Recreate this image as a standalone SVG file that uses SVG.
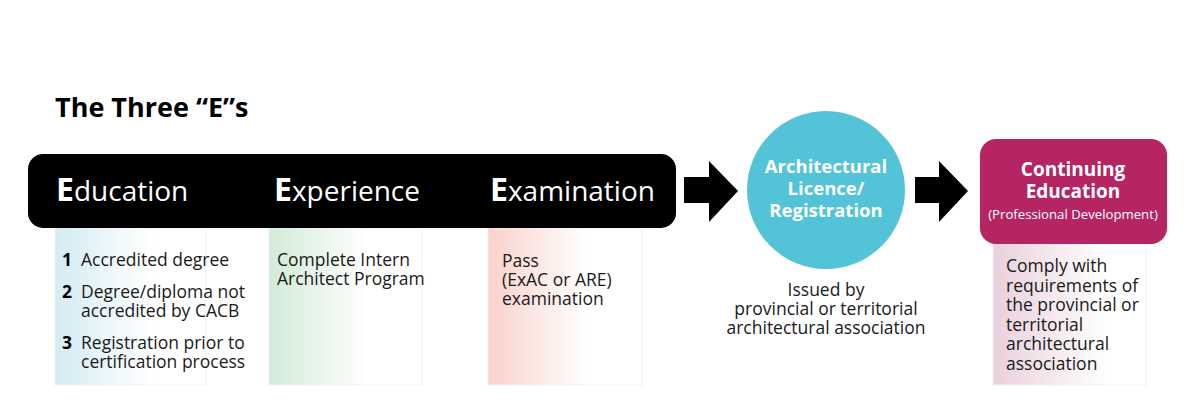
<svg xmlns="http://www.w3.org/2000/svg" width="1200" height="418" viewBox="0 0 1200 418">
<style>
.t{font-family:"Open Sans","Liberation Sans",sans-serif;fill:#1a1a1a}
.body{font-size:17.5px}
.num{font-family:"Open Sans","Liberation Sans",sans-serif;font-size:17.5px;font-weight:bold;fill:#000}
.title{font-family:"Open Sans","Liberation Sans",sans-serif;font-size:27px;font-weight:bold;fill:#000}
.hd{font-family:"Open Sans","Liberation Sans",sans-serif;fill:#fff;font-size:28px}
.hdE{font-weight:bold;font-size:32px}
.wb{font-family:"Open Sans","Liberation Sans",sans-serif;fill:#fff;font-weight:bold;text-anchor:middle}
.wn{font-family:"Open Sans","Liberation Sans",sans-serif;fill:#fff;font-weight:normal;text-anchor:middle;font-size:13.2px}
.col{stroke:#f2f2f2;stroke-width:1}
</style>
<defs>
<linearGradient id="gBlue" x1="0" x2="1" y1="0" y2="0"><stop offset="0" stop-color="#d3ecf3"/><stop offset="0.65" stop-color="#fff"/></linearGradient>
<linearGradient id="gGreen" x1="0" x2="1" y1="0" y2="0"><stop offset="0" stop-color="#d2ebd7"/><stop offset="0.65" stop-color="#fff"/></linearGradient>
<linearGradient id="gRed" x1="0" x2="1" y1="0" y2="0"><stop offset="0" stop-color="#f9d2cb"/><stop offset="0.65" stop-color="#fff"/></linearGradient>
<linearGradient id="gMag" x1="0" x2="1" y1="0" y2="0"><stop offset="0" stop-color="#ead0db"/><stop offset="0.75" stop-color="#fff"/></linearGradient>
</defs>
<rect width="1200" height="418" fill="#fff"/>
<text class="title" x="55" y="117">The Three “E”s</text>

<g id="education-column">
<rect class="col" x="55" y="228" width="151" height="157" fill="url(#gBlue)"/>
<text class="num" x="62" y="266">1</text>
<text class="t body" x="81" y="266">Accredited degree</text>
<text class="num" x="62" y="298">2</text>
<text class="t body" x="81" y="298">Degree/diploma not<tspan x="81" dy="19">accredited by CACB</tspan></text>
<text class="num" x="62" y="349">3</text>
<text class="t body" x="81" y="349">Registration prior to<tspan x="81" dy="19">certification process</tspan></text>
</g>
<g id="experience-column">
<rect class="col" x="269" y="228" width="153" height="157" fill="url(#gGreen)"/>
<text class="t body" x="277" y="266">Complete Intern<tspan x="277" dy="19">Architect Program</tspan></text>
</g>
<g id="examination-column">
<rect class="col" x="488" y="228" width="154" height="157" fill="url(#gRed)"/>
<text class="t body" x="502" y="267">Pass<tspan x="502" dy="19">(ExAC or ARE)</tspan><tspan x="502" dy="19">examination</tspan></text>
</g>

<g id="three-es">
<rect x="28" y="154" width="648" height="74" rx="15" fill="#000"/>
<text class="hd" x="56" y="201"><tspan class="hdE">E</tspan>ducation</text>
<text class="hd" x="274" y="201"><tspan class="hdE">E</tspan>xperience</text>
<text class="hd" x="490" y="201"><tspan class="hdE">E</tspan>xamination</text>
</g>

<g id="connectors">
<polygon points="684,177 709,177 709,161 738,191 709,222 709,203 684,203" fill="#000"/>
<polygon points="915,177 939,177 939,161 968,191 939,222 939,203 915,203" fill="#000"/>
</g>

<g id="licence">
<circle cx="826" cy="190" r="79" fill="#53c4d7"/>
<text class="wb" x="826" y="173" font-size="18.5">Architectural<tspan x="826" dy="22">Licence/</tspan><tspan x="826" dy="22">Registration</tspan></text>
<text class="t body" x="826" y="296" text-anchor="middle">Issued by<tspan x="826" dy="19">provincial or territorial</tspan><tspan x="826" dy="19">architectural association</tspan></text>
</g>

<g id="continuing-education">
<rect class="col" x="993" y="240" width="153" height="145" fill="url(#gMag)"/>
<rect x="980" y="139" width="187" height="105" rx="16" fill="#b52463"/>
<text class="wb" x="1073" y="176" font-size="19">Continuing<tspan x="1073" dy="22">Education</tspan></text>
<text class="wn" x="1073" y="219">(Professional Development)</text>
<text class="t body" x="1006" y="272">Comply with<tspan x="1006" dy="19.5">requirements of</tspan><tspan x="1006" dy="19.5">the provincial or</tspan><tspan x="1006" dy="19.5">territorial</tspan><tspan x="1006" dy="19.5">architectural</tspan><tspan x="1006" dy="19.5">association</tspan></text>
</g>
</svg>
